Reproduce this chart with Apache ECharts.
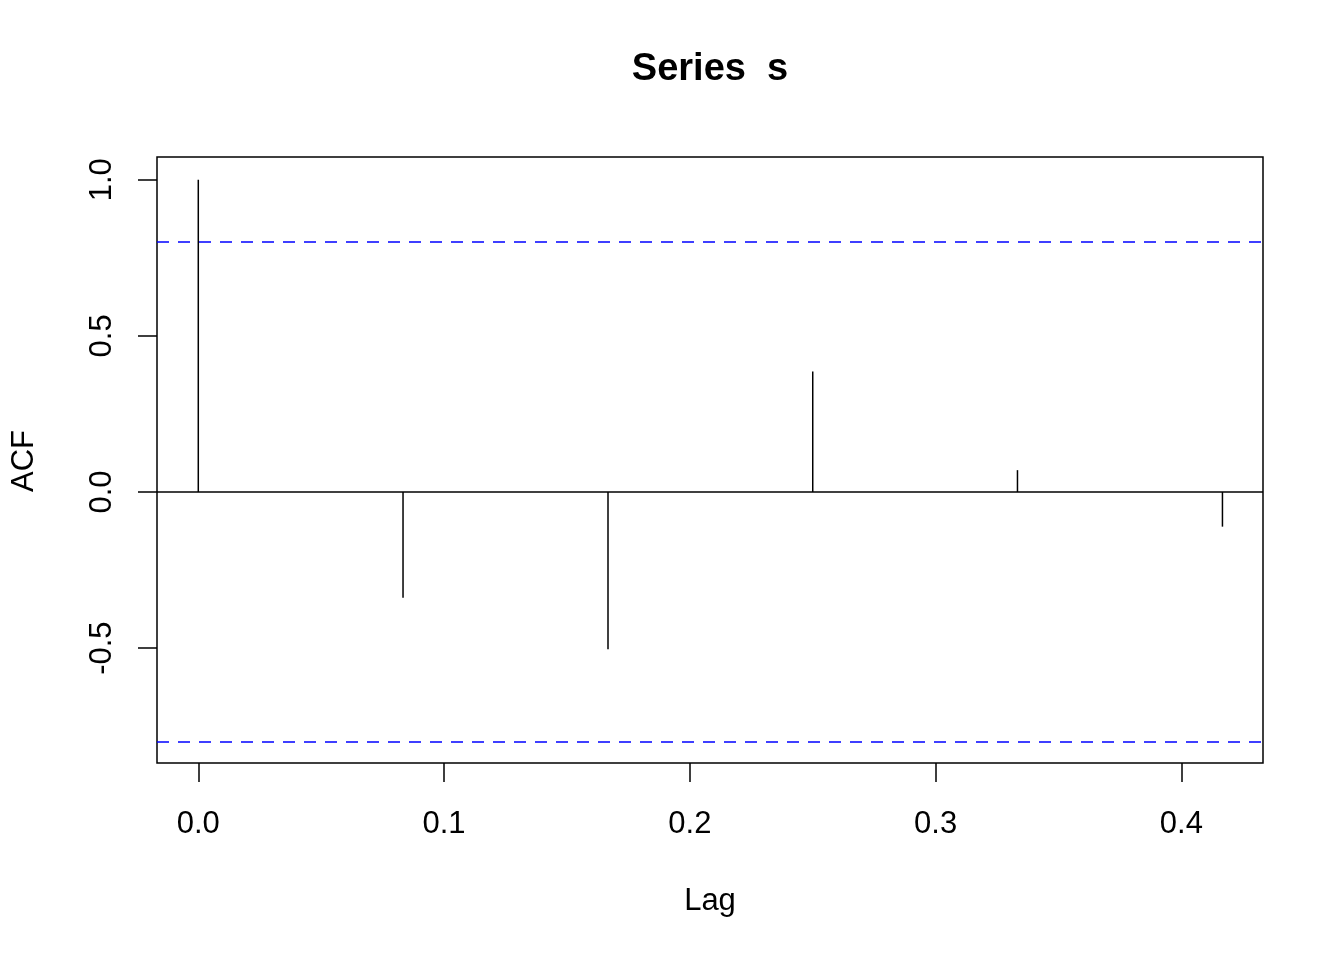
<!DOCTYPE html>
<html>
<head>
<meta charset="utf-8">
<script src="https://cdn.jsdelivr.net/npm/echarts@6/dist/echarts.min.js"></script>
<style>
  html, body { margin: 0; padding: 0; background: #fff; }
  #chart { width: 1344px; height: 960px; }
</style>
</head>
<body>
<div id="chart"></div>
<script>
// ---- data ----
const lags = [0, 0.0833, 0.1667, 0.25, 0.3333, 0.4167];
const acfValues = [1.0, -0.339, -0.504, 0.386, 0.070, -0.111];
const ciUpper = 0.800;
const ciLower = -0.800;
const xTickValues = [0, 0.1, 0.2, 0.3, 0.4];
const yTickValues = [-0.5, 0, 0.5, 1.0];
const titleText = 'Series  s';
const xName = 'Lag';
const yName = 'ACF';

const FONT = '"Liberation Sans", Arial, Helvetica, sans-serif';
const chart = echarts.init(document.getElementById('chart'), null, { renderer: 'canvas' });

const points = lags.map((l, i) => [l, acfValues[i]]);

const option = {
  animation: false,
  backgroundColor: '#ffffff',
  grid: {
    left: 157, top: 157, width: 1106, height: 606,
    show: true, borderColor: '#000', borderWidth: 1.5, backgroundColor: 'transparent'
  },
  graphic: [
    { type: 'text', x: 710, y: 70, style: { text: titleText, font: 'bold 38px ' + FONT, fill: '#000', align: 'center', verticalAlign: 'middle' } },
    { type: 'text', x: 710, y: 901, style: { text: xName, font: '31px ' + FONT, fill: '#000', align: 'center', verticalAlign: 'middle' } },
    { type: 'text', x: 24, y: 461, rotation: Math.PI / 2, style: { text: yName, font: '31px ' + FONT, fill: '#000', align: 'center', verticalAlign: 'middle' } }
  ],
  xAxis: {
    type: 'value',
    min: -0.0168, max: 0.4332,
    axisLine: { show: false, onZero: false },
    splitLine: { show: false },
    axisTick: { show: true, customValues: xTickValues, length: 19, lineStyle: { color: '#000', width: 1.5 } },
    axisLabel: {
      customValues: xTickValues, margin: 46,
      formatter: v => v.toFixed(1),
      fontFamily: FONT, fontSize: 31, color: '#000'
    }
  },
  yAxis: {
    type: 'value',
    min: -0.868, max: 1.073,
    axisLine: { show: false, onZero: false },
    splitLine: { show: false },
    axisTick: { show: true, customValues: yTickValues, length: 19, lineStyle: { color: '#000', width: 1.5 } },
    axisLabel: {
      customValues: yTickValues, margin: 39, rotate: 90,
      formatter: v => v.toFixed(1),
      fontFamily: FONT, fontSize: 31, color: '#000'
    }
  },
  series: [
    {
      type: 'custom',
      data: points,
      encode: { x: 0, y: 1 },
      renderItem: function (params, api) {
        const x = api.value(0), y = api.value(1);
        const p0 = api.coord([x, 0]);
        const p1 = api.coord([x, y]);
        return {
          type: 'line',
          shape: { x1: p0[0], y1: p0[1], x2: p1[0], y2: p1[1] },
          style: { stroke: '#000', lineWidth: 1.5 }
        };
      },
      markLine: {
        silent: true,
        symbol: ['none', 'none'],
        label: { show: false },
        emphasis: { disabled: true },
        data: [
          { yAxis: 0, lineStyle: { color: '#000', type: 'solid', width: 1.5 } },
          { yAxis: ciUpper, lineStyle: { color: '#0000ff', type: [12, 9], width: 1.5 } },
          { yAxis: ciLower, lineStyle: { color: '#0000ff', type: [12, 9], width: 1.5 } }
        ]
      }
    }
  ]
};
chart.setOption(option);
</script>
</body>
</html>
